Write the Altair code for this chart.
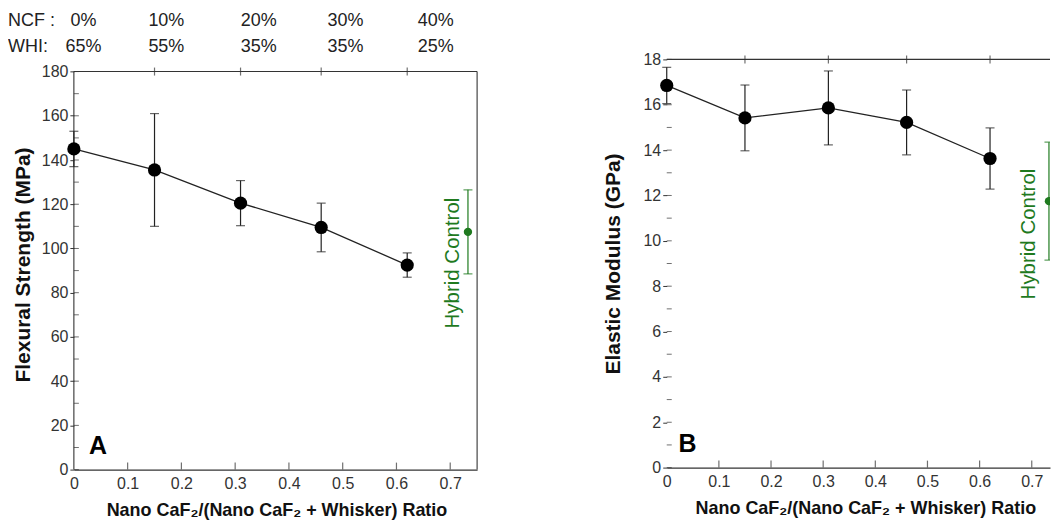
import altair as alt
import pandas as pd

# ---------------- data ----------------
ratio = [0.0, 0.15, 0.31, 0.46, 0.62]
flex_mean = [145.0, 135.5, 120.5, 109.5, 92.5]
flex_sd = [8.0, 25.5, 10.2, 11.0, 5.5]
mod_mean = [16.85, 15.42, 15.86, 15.22, 13.63]
mod_sd = [0.8, 1.45, 1.63, 1.43, 1.35]

hybrid_ratio = 0.733
hybrid_flex, hybrid_flex_sd = 107.5, 19.0
hybrid_mod, hybrid_mod_sd = 11.75, 2.6

ncf_labels = ["0%", "10%", "20%", "30%", "40%"]
whi_labels = ["65%", "55%", "35%", "35%", "25%"]
label_x = [0.018, 0.172, 0.344, 0.505, 0.673]

x_ticks = [0.0, 0.1, 0.2, 0.3, 0.4, 0.5, 0.6, 0.7]
flex_ticks = list(range(0, 181, 20))
flex_minor = list(range(10, 180, 20))
mod_ticks = list(range(0, 19, 2))
mod_minor = list(range(1, 18, 2))

X_TITLE = "Nano CaF\u2082/(Nano CaF\u2082 + Whisker) Ratio"
GREEN = "#1f7a1f"
INK = "#222222"
FONT = "Liberation Sans"


def panel(mean, sd, h_val, h_sd, xdom, ydom, ytop, yticks, yminor, ytitle,
          ytitle_pad, letter, letter_xy, htext_xy, width, height, right_frame,
          title_x, header=None):
    xs = alt.Scale(domain=xdom, nice=False, zero=False)
    ys = alt.Scale(domain=ydom, nice=False, zero=False)
    xaxis = alt.Axis(values=x_ticks, grid=False, ticks=False, labelFlush=False,
                     labelExpr="datum.value == 0 ? '0' : format(datum.value, '.1f')",
                     labelPadding=6, labelFontSize=16, title=X_TITLE,
                     titleFontSize=18, titleFontWeight="bold", titlePadding=10,
                     titleX=title_x)
    yaxis = alt.Axis(values=yticks, grid=False, domain=False, tickSize=4,
                     labelPadding=2, labelFontSize=16, title=ytitle,
                     titleFontSize=21, titleFontWeight="bold",
                     titlePadding=ytitle_pad)

    def X(f):
        return alt.X(f, type="quantitative", scale=xs, axis=xaxis)

    def Y(f):
        return alt.Y(f, type="quantitative", scale=ys, axis=yaxis)

    df = pd.DataFrame({"ratio": ratio, "mean": mean,
                       "lo": [m - s for m, s in zip(mean, sd)],
                       "hi": [m + s for m, s in zip(mean, sd)]})
    dh = pd.DataFrame({"ratio": [hybrid_ratio], "mean": [h_val],
                       "lo": [h_val - h_sd], "hi": [h_val + h_sd]})

    line = alt.Chart(df).mark_line(color=INK, strokeWidth=1.3).encode(
        x=X("ratio"), y=Y("mean"))
    bars = alt.Chart(df).mark_rule(color=INK, strokeWidth=1.2).encode(
        x=X("ratio"), y=Y("lo"), y2="hi")
    caps = alt.Chart(df).transform_fold(["lo", "hi"], as_=["k", "v"]).mark_tick(
        orient="horizontal", size=9, thickness=1.2, color=INK).encode(
        x=X("ratio"), y=Y("v:Q"))
    pts = alt.Chart(df).mark_circle(size=175, opacity=1, color="black").encode(
        x=X("ratio"), y=Y("mean"))

    hbars = alt.Chart(dh).mark_rule(color=GREEN, strokeWidth=1.2, clip=True).encode(
        x=X("ratio"), y=Y("lo"), y2="hi")
    hcaps = alt.Chart(dh).transform_fold(["lo", "hi"], as_=["k", "v"]).mark_tick(
        orient="horizontal", size=9, thickness=1.2, color=GREEN, clip=True).encode(
        x=X("ratio"), y=Y("v:Q"))
    hpts = alt.Chart(dh).mark_circle(size=70, opacity=1, color=GREEN, clip=True).encode(
        x=X("ratio"), y=Y("mean"))
    htext = alt.Chart(pd.DataFrame({"x": [htext_xy[0]], "y": [htext_xy[1]],
                                    "t": ["Hybrid Control"]})).mark_text(
        angle=270, color=GREEN, fontSize=20.5, font=FONT).encode(
        x=X("x"), y=Y("y"), text="t:N")
    ltext = alt.Chart(pd.DataFrame({"x": [letter_xy[0]], "y": [letter_xy[1]],
                                    "t": [letter]})).mark_text(
        fontSize=25, fontWeight="bold", color="black", font=FONT).encode(
        x=X("x"), y=Y("y"), text="t:N")

    # frame: top edge (and left/right edges for panel A)
    top_edge = alt.Chart(pd.DataFrame({"x": [xdom[0]], "x2": [xdom[1]], "y": [ytop]})
                         ).mark_rule(color="#333", strokeWidth=1.1).encode(
        x=X("x"), x2="x2", y=Y("y"))
    layers = [line, top_edge]
    if right_frame:
        side_edges = alt.Chart(pd.DataFrame({"x": [xdom[0], xdom[1]],
                                             "y": [ydom[0]] * 2, "y2": [ytop] * 2})
                               ).mark_rule(color="#333", strokeWidth=1.1).encode(
            x=X("x"), y=Y("y"), y2="y2")
        layers.append(side_edges)

    # inward ticks
    yt = pd.DataFrame({"x": [xdom[0]] * len(yticks), "y": yticks})
    ym = pd.DataFrame({"x": [xdom[0]] * len(yminor), "y": yminor})
    ymaj_t = alt.Chart(yt).mark_tick(orient="horizontal", size=5, thickness=1,
                                     xOffset=2.5, color="#333").encode(x=X("x"), y=Y("y"))
    ymin_t = alt.Chart(ym).mark_tick(orient="horizontal", size=5, thickness=1,
                                     xOffset=2.5, color="#333").encode(x=X("x"), y=Y("y"))
    xt = pd.DataFrame({"x": x_ticks[1:], "y": [ydom[0]] * (len(x_ticks) - 1)})
    x_t = alt.Chart(xt).mark_tick(orient="vertical", size=7, thickness=1.2,
                                  yOffset=-3.5, color="#333").encode(x=X("x"), y=Y("y"))
    tt = pd.DataFrame({"x": ratio[1:], "y": [ytop] * (len(ratio) - 1)})
    top_t = alt.Chart(tt).mark_tick(orient="vertical", size=8, thickness=1.2,
                                    color="#333").encode(x=X("x"), y=Y("y"))

    layers += [ymaj_t, ymin_t, x_t, top_t, bars, caps, pts,
               hbars, hcaps, hpts, htext, ltext]

    if header is not None:
        hx, ny, wy = header
        heads = alt.Chart(pd.DataFrame({"x": [hx, hx], "y": [ny, wy],
                                        "t": ["NCF :", "WHI:"]})).mark_text(
            align="left", fontSize=18, color=INK, font=FONT).encode(
            x=X("x"), y=Y("y"), text="t:N")
        vals = alt.Chart(pd.DataFrame({"x": label_x * 2,
                                       "y": [ny] * 5 + [wy] * 5,
                                       "t": ncf_labels + whi_labels})).mark_text(
            align="center", fontSize=18, color=INK, font=FONT).encode(
            x=X("x"), y=Y("y"), text="t:N")
        layers += [heads, vals]

    return alt.layer(*layers).properties(width=width, height=height)


panel_a = panel(flex_mean, flex_sd, hybrid_flex, hybrid_flex_sd,
                [0, 0.75], [0, 185.5], 180, flex_ticks, flex_minor,
                "Flexural Strength (MPa)", 8, "A", (0.045, 10.5), (0.706, 93.4),
                404, 411, True, 203, header=(-0.1225, 203, 191.3))
panel_b = panel(mod_mean, mod_sd, hybrid_mod, hybrid_mod_sd,
                [0, 0.735], [0, 18], 18, mod_ticks, mod_minor,
                "Elastic Modulus (GPa)", 20, "B", (0.04, 1.04), (0.694, 10.3),
                384, 409, False, 199)

chart = alt.hconcat(panel_a, panel_b, spacing=124).properties(
    padding={"left": 0, "top": 3, "right": 0, "bottom": 0}
).configure_view(stroke=None).configure_axis(
    labelColor="#333", domainColor="#333", tickColor="#333", titleColor="#111",
    labelFont=FONT, titleFont=FONT, domainWidth=1.1
)

chart.save("out.html", embed_options={"renderer": "svg", "actions": False})
